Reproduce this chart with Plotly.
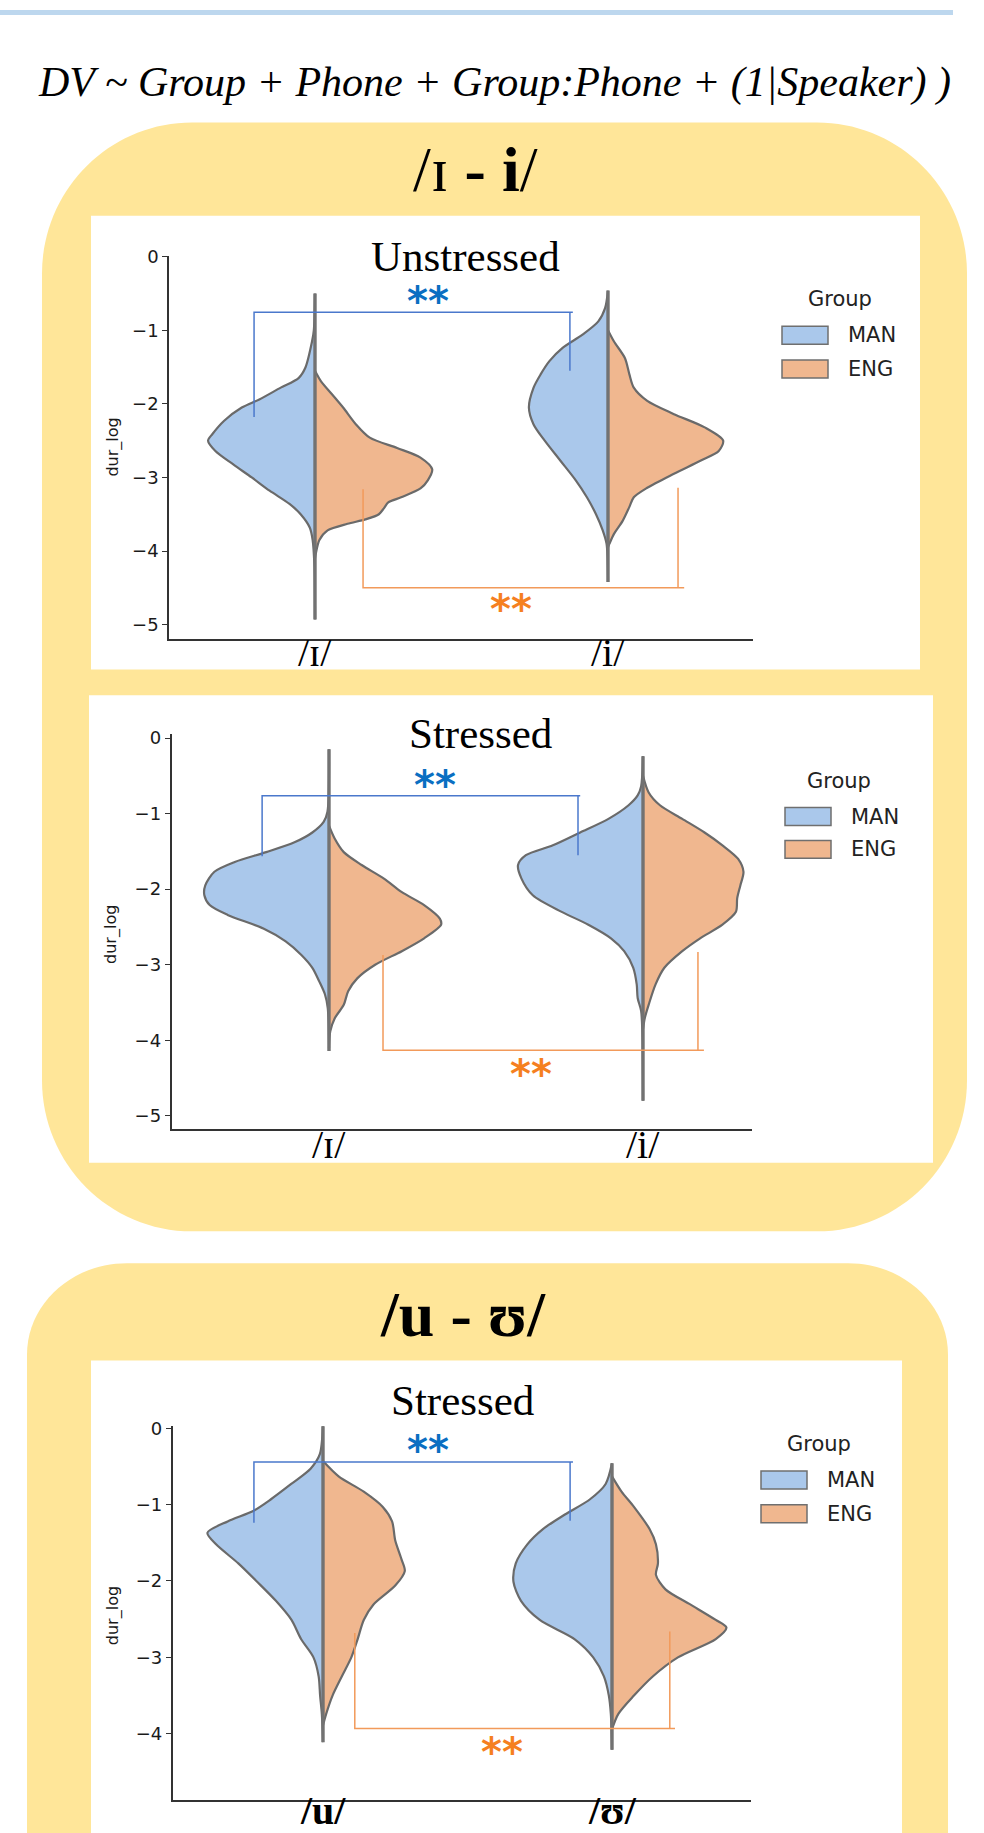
import plotly.graph_objects as go

W, H = 984, 1833

# ---------------- data ----------------
GROUPS = ["MAN", "ENG"]
FORMULA = "DV ~ Group + Phone + Group:Phone + (1|Speaker) )"
SECTION_TITLES = ["/ɪ <b>- i</b>/", "<b>/u - ʊ/</b>"]
PANEL_TITLES = ["Unstressed", "Stressed", "Stressed"]
PHONES_IH = ["/ɪ/", "/i/"]
PHONES_UH = ["<b>/u/</b>", "<b>/ʊ/</b>"]
Y_TICKS_A = [0, -1, -2, -3, -4, -5]
Y_TICKS_B = [0, -1, -2, -3, -4]
Y_LABEL = "dur_log"

# Half-violin outlines: dur_log levels and half widths (category units)
# Panel 1: Unstressed /ɪ/ and /i/
UN_IH_MAN_Y = [-0.5, -1.0, -1.15, -1.51, -1.65, -1.78, -1.94, -2.05, -2.23, -2.41, -2.5, -2.64, -2.82, -3.0, -3.18, -3.36, -3.5, -3.68, -3.85, -4.2, -4.93]
UN_IH_MAN_W = [0.0, 0.004, 0.01, 0.033, 0.056, 0.117, 0.19, 0.25, 0.31, 0.35, 0.365, 0.34, 0.28, 0.216, 0.155, 0.087, 0.049, 0.018, 0.008, 0.002, 0.0]
UN_IH_ENG_Y = [-1.55, -1.69, -1.87, -2.05, -2.28, -2.46, -2.6, -2.73, -2.89, -3.04, -3.15, -3.27, -3.34, -3.42, -3.5, -3.57, -3.63, -3.72, -3.85, -4.03, -4.1]
UN_IH_ENG_W = [0.0, 0.02, 0.058, 0.096, 0.14, 0.187, 0.28, 0.36, 0.40, 0.385, 0.36, 0.294, 0.25, 0.235, 0.218, 0.172, 0.111, 0.043, 0.015, 0.003, 0.0]
UN_I_MAN_Y = [-0.46, -0.7, -0.88, -1.06, -1.24, -1.42, -1.6, -1.78, -2.05, -2.28, -2.5, -2.77, -3.04, -3.27, -3.5, -3.72, -3.9, -4.42]
UN_I_MAN_W = [0.0, 0.01, 0.033, 0.087, 0.155, 0.2, 0.23, 0.254, 0.27, 0.254, 0.216, 0.163, 0.11, 0.072, 0.041, 0.018, 0.005, 0.0]
UN_I_ENG_Y = [-1.0, -1.15, -1.38, -1.6, -1.78, -1.96, -2.14, -2.32, -2.5, -2.64, -2.77, -2.95, -3.14, -3.27, -3.4, -3.59, -3.77, -3.9, -3.95]
UN_I_ENG_W = [0.0, 0.02, 0.058, 0.073, 0.088, 0.134, 0.225, 0.33, 0.393, 0.378, 0.317, 0.225, 0.134, 0.088, 0.073, 0.05, 0.02, 0.005, 0.0]
UN_RANGE = [(-0.5, -4.93), (-0.46, -4.42)]

# Panel 2: Stressed /ɪ/ and /i/
ST_IH_MAN_Y = [-0.15, -0.98, -1.11, -1.25, -1.38, -1.51, -1.64, -1.77, -1.95, -2.08, -2.21, -2.34, -2.52, -2.69, -2.87, -3.04, -3.22, -3.39, -3.57, -4.14]
ST_IH_MAN_W = [0.0, 0.005, 0.017, 0.053, 0.11, 0.2, 0.3, 0.365, 0.394, 0.397, 0.38, 0.323, 0.209, 0.138, 0.088, 0.053, 0.031, 0.013, 0.004, 0.0]
ST_IH_ENG_Y = [-1.16, -1.33, -1.51, -1.68, -1.86, -2.04, -2.21, -2.39, -2.47, -2.65, -2.82, -3.0, -3.18, -3.35, -3.53, -3.71, -3.88, -4.1]
ST_IH_ENG_W = [0.0, 0.018, 0.047, 0.104, 0.175, 0.232, 0.303, 0.353, 0.357, 0.303, 0.232, 0.147, 0.09, 0.061, 0.047, 0.018, 0.004, 0.0]
ST_I_MAN_Y = [-0.24, -0.64, -0.76, -0.89, -1.07, -1.25, -1.42, -1.55, -1.68, -1.86, -2.08, -2.3, -2.47, -2.65, -2.82, -3.04, -3.26, -3.44, -3.61, -3.9, -4.8]
ST_I_MAN_W = [0.0, 0.006, 0.017, 0.046, 0.11, 0.2, 0.287, 0.373, 0.398, 0.387, 0.351, 0.259, 0.174, 0.102, 0.06, 0.031, 0.02, 0.017, 0.006, 0.002, 0.0]
ST_I_ENG_Y = [-0.5, -0.72, -0.89, -1.07, -1.25, -1.42, -1.6, -1.77, -1.95, -2.12, -2.3, -2.47, -2.65, -2.82, -3.04, -3.26, -3.53, -3.7, -3.85]
ST_I_ENG_W = [0.0, 0.018, 0.054, 0.125, 0.196, 0.253, 0.303, 0.32, 0.31, 0.30, 0.296, 0.253, 0.182, 0.125, 0.068, 0.04, 0.018, 0.006, 0.0]
ST_RANGE = [(-0.15, -4.14), (-0.24, -4.8)]

# Panel 3: Stressed /u/ and /ʊ/
ST_U_MAN_Y = [0.06, -0.34, -0.53, -0.73, -0.93, -1.08, -1.22, -1.37, -1.52, -1.77, -2.01, -2.26, -2.51, -2.76, -3.0, -3.25, -3.5, -3.74, -4.11]
ST_U_MAN_W = [0.0, 0.011, 0.043, 0.11, 0.18, 0.24, 0.33, 0.40, 0.37, 0.293, 0.228, 0.163, 0.109, 0.076, 0.033, 0.015, 0.01, 0.004, 0.0]
ST_U_ENG_Y = [-0.43, -0.63, -0.83, -1.03, -1.22, -1.47, -1.72, -1.87, -2.06, -2.31, -2.51, -2.76, -3.0, -3.25, -3.5, -3.74, -3.89]
ST_U_ENG_W = [0.0, 0.054, 0.141, 0.207, 0.239, 0.25, 0.272, 0.283, 0.25, 0.174, 0.141, 0.12, 0.098, 0.065, 0.033, 0.011, 0.0]
ST_UH_MAN_Y = [-0.46, -0.73, -0.93, -1.13, -1.32, -1.52, -1.77, -2.01, -2.26, -2.51, -2.76, -3.0, -3.25, -3.5, -3.74, -4.21]
ST_UH_MAN_W = [0.0, 0.022, 0.076, 0.163, 0.239, 0.293, 0.333, 0.341, 0.315, 0.25, 0.13, 0.065, 0.028, 0.011, 0.004, 0.0]
ST_UH_ENG_Y = [-0.63, -0.83, -1.03, -1.32, -1.52, -1.77, -1.92, -2.11, -2.31, -2.51, -2.61, -2.76, -3.0, -3.25, -3.5, -3.74, -3.94]
ST_UH_ENG_W = [0.0, 0.033, 0.076, 0.13, 0.152, 0.159, 0.152, 0.185, 0.272, 0.359, 0.396, 0.359, 0.228, 0.141, 0.076, 0.022, 0.0]
STU_RANGE = [(0.06, -4.11), (-0.46, -4.21)]

# Significance brackets: [x_left, x_right, x_bar_end, y_bar, y_left_end, y_right_end]
BRACKETS_MAN = [[-0.208, 0.870, 0.88, -0.757, -2.18, -1.55],
                [-0.213, 0.793, 0.80, -0.763, -1.566, -1.55],
                [-0.239, 0.855, 0.865, -0.443, -1.237, -1.21]]
BRACKETS_ENG = [[0.164, 1.239, 1.26, -4.5, -3.16, -3.14],
                [0.172, 1.175, 1.194, -4.13, -2.87, -2.83],
                [0.11, 1.20, 1.218, -3.93, -2.68, -2.66]]
STARS_MAN = [(0.386, -0.59), (0.338, -0.605), (0.363, -0.273)]
STARS_ENG = [(0.67, -4.78), (0.643, -4.43), (0.619, -4.23)]
STAR_TEXT = "**"

# ---------------- styling ----------------
BLUE_FILL = "#AAC8EB"
ORANGE_FILL = "#F0B78F"
OUTLINE = "#6A6A6A"
YELLOW = "#FFE699"
TOPBAR = "#BDD7EE"
MAN_LINE = "#4A78CC"
ENG_LINE = "#F29A5A"
MAN_STAR = "#0A6FC2"
ENG_STAR = "#F5801F"
SERIF = "Liberation Serif, Times New Roman, serif"
SANS = "DejaVu Sans, sans-serif"

# pixel geometry of each panel: axis left/right, centre of first category,
# px per category, axis top/bottom, pixel of y=0, px per dur_log unit
PANEL_GEOM = [
    dict(x0=169, x1=753, c0=315, upx=293, yt=247, yb=632, yz=248, vpx=74),
    dict(x0=171.5, x1=752, c0=329, upx=314, yt=728, yb=1125, yz=732, vpx=76),
    dict(x0=172.6, x1=751, c0=323, upx=289, yt=1424, yb=1800, yz=1426, vpx=76.8),
]


def px(x):
    return x / W


def py(y):
    return 1 - y / H


def rrect(x0, y0, x1, y1, rx, ry):
    k = 0.5523

    def p(x, y):
        return f"{px(x):.5f},{py(y):.5f}"
    s = f"M {p(x0 + rx, y0)} L {p(x1 - rx, y0)} "
    s += f"C {p(x1 - rx + k * rx, y0)} {p(x1, y0 + ry - k * ry)} {p(x1, y0 + ry)} "
    s += f"L {p(x1, y1 - ry)} "
    s += f"C {p(x1, y1 - ry + k * ry)} {p(x1 - rx + k * rx, y1)} {p(x1 - rx, y1)} "
    s += f"L {p(x0 + rx, y1)} "
    s += f"C {p(x0 + rx - k * rx, y1)} {p(x0, y1 - ry + k * ry)} {p(x0, y1 - ry)} "
    s += f"L {p(x0, y0 + ry)} "
    s += f"C {p(x0, y0 + ry - k * ry)} {p(x0 + rx - k * rx, y0)} {p(x0 + rx, y0)} Z"
    return s


fig = go.Figure()
shapes = []
annotations = []

# background decorations
shapes.append(dict(type="rect", xref="paper", yref="paper", x0=0, x1=px(953), y0=py(5), y1=1,
                   fillcolor=TOPBAR, line=dict(width=0), layer="below"))
shapes.append(dict(type="path", xref="paper", yref="paper", path=rrect(42, 113, 967, 1228, 150, 152),
                   fillcolor=YELLOW, line=dict(width=0), layer="below"))
shapes.append(dict(type="path", xref="paper", yref="paper", path=rrect(27, 1260, 948, 2050, 100, 92),
                   fillcolor=YELLOW, line=dict(width=0), layer="below"))
for (a, b, c, d) in [(91, 207, 920, 663), (89, 689, 933, 1159), (91, 1358, 902, 1840)]:
    shapes.append(dict(type="rect", xref="paper", yref="paper", x0=px(a), x1=px(c), y0=py(d), y1=py(b),
                       fillcolor="white", line=dict(width=0), layer="below"))

annotations.append(dict(text=f"<i>{FORMULA}</i>", x=px(494), y=py(73), xref="paper", yref="paper",
                        showarrow=False, font=dict(family=SERIF, size=42, color="black"),
                        xanchor="center", yanchor="middle"))
annotations.append(dict(text=SECTION_TITLES[0], x=px(475), y=py(160), xref="paper", yref="paper",
                        showarrow=False, font=dict(family=SERIF, size=64, color="black"),
                        xanchor="center", yanchor="middle"))
annotations.append(dict(text=SECTION_TITLES[1], x=px(463), y=py(1312), xref="paper", yref="paper",
                        showarrow=False, font=dict(family=SERIF, size=64, color="black"),
                        xanchor="center", yanchor="middle"))

PANELS = [
    dict(halves=[(UN_IH_MAN_Y, UN_IH_MAN_W), (UN_IH_ENG_Y, UN_IH_ENG_W),
                 (UN_I_MAN_Y, UN_I_MAN_W), (UN_I_ENG_Y, UN_I_ENG_W)],
         ranges=UN_RANGE, phones=PHONES_IH, ticks=Y_TICKS_A, title_xy=(465, 248),
         phone_y=646, ylab_xy=(113, 440), legend=(840, 291, 782, 327, 361)),
    dict(halves=[(ST_IH_MAN_Y, ST_IH_MAN_W), (ST_IH_ENG_Y, ST_IH_ENG_W),
                 (ST_I_MAN_Y, ST_I_MAN_W), (ST_I_ENG_Y, ST_I_ENG_W)],
         ranges=ST_RANGE, phones=PHONES_IH, ticks=Y_TICKS_A, title_xy=(480, 727),
         phone_y=1141, ylab_xy=(111, 930), legend=(839, 775, 785, 811, 844)),
    dict(halves=[(ST_U_MAN_Y, ST_U_MAN_W), (ST_U_ENG_Y, ST_U_ENG_W),
                 (ST_UH_MAN_Y, ST_UH_MAN_W), (ST_UH_ENG_Y, ST_UH_ENG_W)],
         ranges=STU_RANGE, phones=PHONES_UH, ticks=Y_TICKS_B, title_xy=(462, 1398),
         phone_y=1810, ylab_xy=(113, 1615), legend=(819, 1442, 761, 1478, 1512)),
]

for i, (panel, g) in enumerate(zip(PANELS, PANEL_GEOM)):
    sfx = "" if i == 0 else str(i + 1)
    xa, ya = "x" + sfx, "y" + sfx
    xr = [(g["x0"] - g["c0"]) / g["upx"], (g["x1"] - g["c0"]) / g["upx"]]
    yr = [-(g["yb"] - g["yz"]) / g["vpx"], (g["yz"] - g["yt"]) / g["vpx"]]
    axstyle = dict(showline=True, linecolor="#333333", linewidth=1.5, showgrid=False, zeroline=False)
    fig.update_layout(**{
        "xaxis" + sfx: dict(domain=[px(g["x0"]), px(g["x1"])], range=xr, anchor=ya,
                            showticklabels=False, ticks="", fixedrange=True, **axstyle),
        "yaxis" + sfx: dict(domain=[py(g["yb"]), py(g["yt"])], range=yr, anchor=xa,
                            tickvals=panel["ticks"], ticks="outside", ticklen=5, tickwidth=1.2,
                            tickcolor="#333333", tickfont=dict(family=SANS, size=18, color="#1A1A1A"),
                            fixedrange=True, **axstyle),
    })
    # violins
    for j, (yy, ww) in enumerate(panel["halves"]):
        cat = j // 2
        sign = -1 if j % 2 == 0 else 1
        color = BLUE_FILL if j % 2 == 0 else ORANGE_FILL
        fig.add_trace(go.Scatter(
            x=[cat + sign * w for w in ww], y=yy, xaxis=xa, yaxis=ya, mode="lines",
            line=dict(color=OUTLINE, width=2.2, shape="spline", smoothing=0.8),
            fill="toself", fillcolor=color, showlegend=False, hoverinfo="skip"))
    for cat, (top, bot) in enumerate(panel["ranges"]):
        fig.add_trace(go.Scatter(x=[cat, cat], y=[top, bot], xaxis=xa, yaxis=ya, mode="lines",
                                 line=dict(color="#727272", width=3.4), showlegend=False,
                                 hoverinfo="skip"))
    # brackets
    for br, col in [(BRACKETS_MAN[i], MAN_LINE), (BRACKETS_ENG[i], ENG_LINE)]:
        xl, xr_, xe, yb_, yl, yr_ = br
        fig.add_trace(go.Scatter(x=[xl, xl, xe, None, xr_, xr_], y=[yl, yb_, yb_, None, yb_, yr_],
                                 xaxis=xa, yaxis=ya, mode="lines", line=dict(color=col, width=1.5),
                                 showlegend=False, hoverinfo="skip"))
    for (sx, sy), col in [(STARS_MAN[i], MAN_STAR), (STARS_ENG[i], ENG_STAR)]:
        annotations.append(dict(text=f"<b>{STAR_TEXT}</b>", x=sx, y=sy, xref=xa, yref=ya, showarrow=False,
                                font=dict(family=SANS, size=40, color=col), xanchor="center",
                                yanchor="middle", yshift=-1))
    # phone labels
    for cat, lab in enumerate(panel["phones"]):
        annotations.append(dict(text=lab, x=cat, y=py(panel["phone_y"]), xref=xa, yref="paper",
                                showarrow=False, font=dict(family=SERIF, size=40, color="black"),
                                xanchor="center", yanchor="middle"))
    # panel title
    tx, ty = panel["title_xy"]
    annotations.append(dict(text=PANEL_TITLES[i], x=px(tx), y=py(ty), xref="paper", yref="paper",
                            showarrow=False, font=dict(family=SERIF, size=43, color="black"),
                            xanchor="center", yanchor="middle"))
    lx, ly = panel["ylab_xy"]
    annotations.append(dict(text=Y_LABEL, x=px(lx), y=py(ly), xref="paper", yref="paper",
                            showarrow=False, textangle=-90, font=dict(family=SANS, size=16, color="#1A1A1A"),
                            xanchor="center", yanchor="middle"))
    # legend
    gx, gy, pxl, my, ey = panel["legend"]
    annotations.append(dict(text="Group", x=px(gx), y=py(gy), xref="paper", yref="paper", showarrow=False,
                            font=dict(family=SANS, size=21, color="#222222"), xanchor="center",
                            yanchor="middle"))
    for name, yy_, col in [(GROUPS[0], my, BLUE_FILL), (GROUPS[1], ey, ORANGE_FILL)]:
        shapes.append(dict(type="rect", xref="paper", yref="paper", x0=px(pxl), x1=px(pxl + 46),
                           y0=py(yy_ + 9), y1=py(yy_ - 9), fillcolor=col,
                           line=dict(color="#6F6F6F", width=1.5), layer="above"))
        annotations.append(dict(text=name, x=px(pxl + 64), y=py(yy_), xref="paper", yref="paper",
                                showarrow=False, font=dict(family=SANS, size=21, color="#222222"),
                                xanchor="left", yanchor="middle"))

fig.update_layout(width=W, height=H, margin=dict(l=0, r=0, t=0, b=0, pad=0),
                  paper_bgcolor="white", plot_bgcolor="rgba(0,0,0,0)",
                  shapes=shapes, annotations=annotations, showlegend=False)

fig.write_html("out.html")
